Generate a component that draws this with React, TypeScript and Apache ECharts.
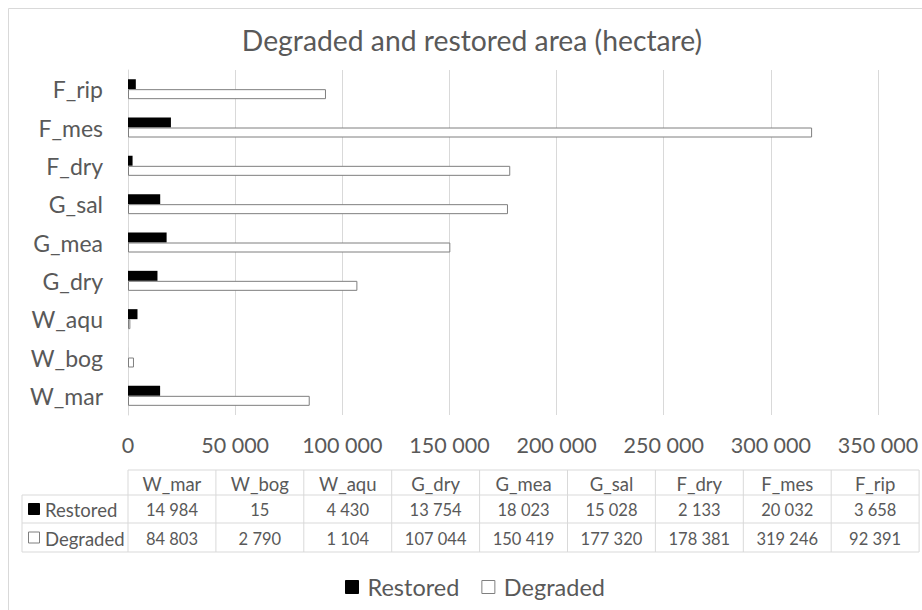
import React, { useEffect, useRef } from "react";
import * as echarts from "echarts";

// Habitat categories, bottom to top on the category axis
const categories = ["W_mar", "W_bog", "W_aqu", "G_dry", "G_mea", "G_sal", "F_dry", "F_mes", "F_rip"];
const restored = [14984, 15, 4430, 13754, 18023, 15028, 2133, 20032, 3658];
const degraded = [84803, 2790, 1104, 107044, 150419, 177320, 178381, 319246, 92391];
const xTicks = { min: 0, max: 350000, interval: 50000 };

const TITLE = "Degraded and restored area (hectare)";
const FONT = "Lato, 'Noto Sans', sans-serif";
const TEXT = "#595959";
const LINE = "#d9d9d9";
const EDGE = "#7f7f7f";

const fmt = (n: number) => String(n).replace(/\B(?=(\d{3})+(?!\d))/g, " ");

// Data table drawn under the plot: category header, then one row per series
function buildTable() {
  const left = 128;
  const colW = 87.9;
  const headLeft = 22;
  const rows = [470, 495, 523, 552];
  const right = left + colW * categories.length;
  const els: any[] = [];
  const line = (x1: number, y1: number, x2: number, y2: number) =>
    els.push({ type: "line", shape: { x1, y1, x2, y2 }, style: { stroke: LINE, lineWidth: 1 }, silent: true });

  line(left, rows[0], right, rows[0]);
  for (let r = 1; r < rows.length; r++) line(headLeft, rows[r], right, rows[r]);
  line(headLeft, rows[1], headLeft, rows[3]);
  for (let c = 0; c <= categories.length; c++) line(left + c * colW, rows[0], left + c * colW, rows[3]);

  const cell = (text: string, x: number, y: number, size: number) =>
    els.push({
      type: "text",
      x,
      y,
      style: { text, fill: TEXT, font: `${size}px ${FONT}`, align: "center", verticalAlign: "middle" },
      silent: true,
    });

  categories.forEach((c, i) => {
    const cx = left + colW * (i + 0.5);
    cell(c, cx, (rows[0] + rows[1]) / 2 + 1, 18.5);
    cell(fmt(restored[i]), cx, (rows[1] + rows[2]) / 2 + 1, 16.5);
    cell(fmt(degraded[i]), cx, (rows[2] + rows[3]) / 2 + 1, 16.5);
  });

  const keys = [
    { name: "Restored", fill: "#000", stroke: "#000" },
    { name: "Degraded", fill: "#fff", stroke: EDGE },
  ];
  keys.forEach((k, r) => {
    const cy = (rows[r + 1] + rows[r + 2]) / 2;
    els.push({
      type: "rect",
      shape: { x: 28.5, y: cy - 5.5, width: 11, height: 11 },
      style: { fill: k.fill, stroke: k.stroke, lineWidth: 1 },
      silent: true,
    });
    els.push({
      type: "text",
      x: 45,
      y: cy + 1,
      style: { text: k.name, fill: TEXT, font: `18.5px ${FONT}`, align: "left", verticalAlign: "middle" },
      silent: true,
    });
  });
  return els;
}

export default function App() {
  const ref = useRef<HTMLDivElement>(null);

  useEffect(() => {
    if (!ref.current) return;
    document.body.style.overflow = "hidden";
    const chart = echarts.init(ref.current, null, { renderer: "svg" });
    chart.setOption({
      animation: false,
      backgroundColor: "#fff",
      textStyle: { fontFamily: FONT },
      title: {
        text: TITLE,
        left: 467,
        top: 21,
        textAlign: "center",
        textStyle: { color: TEXT, fontSize: 28.3, fontWeight: "normal", fontFamily: FONT },
      },
      legend: {
        left: 345,
        top: 575,
        padding: 0,
        itemWidth: 13,
        itemHeight: 13,
        itemGap: 22,
        icon: "rect",
        textStyle: { color: TEXT, fontSize: 23.5, fontFamily: FONT, padding: [0, 0, 0, 4] },
        data: [
          { name: "Restored", itemStyle: { color: "#000", borderColor: "#000", borderWidth: 1 } },
          { name: "Degraded", itemStyle: { color: "#fff", borderColor: EDGE, borderWidth: 1 } },
        ],
      },
      grid: { left: 128, right: 44, top: 70, bottom: 195, containLabel: false },
      xAxis: {
        type: "value",
        min: xTicks.min,
        max: xTicks.max,
        interval: xTicks.interval,
        axisLine: { show: false },
        axisTick: { show: false },
        splitLine: { show: true, lineStyle: { color: LINE, width: 1 } },
        axisLabel: { color: TEXT, fontSize: 21.5, fontFamily: FONT, margin: 19, formatter: (v: number) => fmt(v) },
      },
      yAxis: {
        type: "category",
        data: categories,
        axisLine: { show: true, lineStyle: { color: LINE, width: 1 } },
        axisTick: { show: false },
        axisLabel: { color: TEXT, fontSize: 23, fontFamily: FONT, margin: 25 },
      },
      series: [
        {
          name: "Restored",
          type: "bar",
          data: restored,
          barWidth: 10,
          barGap: "0%",
          itemStyle: { color: "#000", borderColor: "#000", borderWidth: 0 },
        },
        {
          name: "Degraded",
          type: "bar",
          data: degraded,
          barWidth: 10,
          barGap: "0%",
          itemStyle: { color: "#fff", borderColor: EDGE, borderWidth: 1 },
        },
      ],
      graphic: [
        {
          type: "rect",
          shape: { x: 8.5, y: 8.5, width: 940, height: 640 },
          style: { fill: "none", stroke: LINE, lineWidth: 1 },
          silent: true,
          z: -1,
        },
        ...buildTable(),
      ],
    });
    return () => chart.dispose();
  }, []);

  return <div ref={ref} style={{ position: "absolute", left: 0, top: 0, width: 922, height: 610 }} />;
}
